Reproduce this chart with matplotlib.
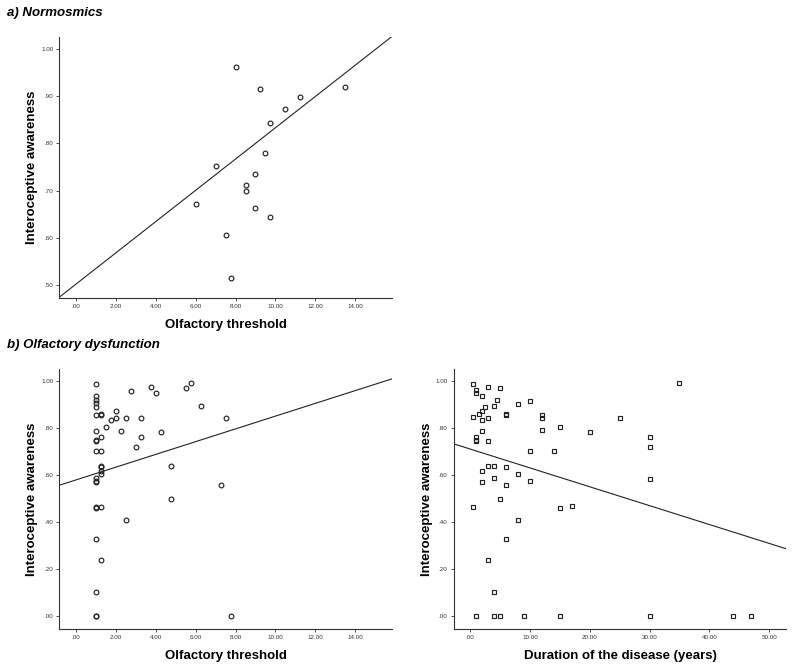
import matplotlib
matplotlib.use("Agg")
import matplotlib.pyplot as plt
from matplotlib.ticker import FuncFormatter

plt.rcParams['font.family'] = ['Liberation Sans', 'DejaVu Sans']

# a) Normosmics: olfactory threshold vs interoceptive awareness
norm_thr = [8.0, 9.25, 13.5, 11.25, 10.5, 9.75, 9.5, 7.0, 9.0, 8.5,
            8.5, 6.0, 9.0, 9.75, 7.5, 7.75]
norm_ia = [0.962, 0.915, 0.919, 0.899, 0.872, 0.844, 0.780, 0.751, 0.736, 0.711,
           0.698, 0.672, 0.664, 0.645, 0.606, 0.514]
norm_fit = (0.502, 0.0331)  # intercept, slope

# b) Olfactory dysfunction: olfactory threshold vs interoceptive awareness
dys_thr = [1.0, 1.0, 1.0, 1.0, 1.0, 1.0, 1.0, 1.0, 1.0, 1.0,
           1.0, 1.0, 1.0, 1.0, 1.0, 1.0, 1.0, 1.0, 1.0,
           1.25, 1.25, 1.25, 1.25, 1.25, 1.25, 1.25, 1.25, 1.25, 1.25,
           1.5, 1.75, 2.0, 2.0, 2.25, 2.5, 2.5, 2.75, 3.0, 3.25,
           3.25, 3.75, 4.0, 4.25, 4.75, 4.75, 5.5, 5.75, 6.25, 7.25,
           7.5, 7.75]
dys_ia = [0.987, 0.936, 0.918, 0.908, 0.891, 0.855, 0.786, 0.748, 0.745, 0.702,
          0.586, 0.577, 0.570, 0.465, 0.460, 0.329, 0.104, 0.0, 0.0,
          0.858, 0.855, 0.762, 0.702, 0.641, 0.634, 0.617, 0.606, 0.465, 0.240,
          0.806, 0.834, 0.872, 0.841, 0.789, 0.845, 0.409, 0.957, 0.721, 0.844,
          0.762, 0.976, 0.949, 0.783, 0.640, 0.498, 0.970, 0.993, 0.892, 0.560,
          0.841, 0.0]
dys_fit = (0.580, 0.0271)

# b) Olfactory dysfunction: disease duration vs interoceptive awareness
dur_years = [0.5, 1, 1, 3, 5, 2, 4.5, 10, 4, 2.5,
             8, 2, 1.5, 0.5, 3, 2, 6, 6, 12, 12,
             15, 20, 25, 35, 2, 12, 1, 1, 1, 3,
             10, 14, 30, 30, 30, 3, 4, 6, 2, 4,
             8, 2, 6, 10, 0.5, 5, 15, 17, 8, 6,
             3, 4, 1, 4, 5, 9, 15, 30, 44, 47]
dur_ia = [0.986, 0.960, 0.949, 0.976, 0.970, 0.935, 0.918, 0.915, 0.892, 0.889,
          0.904, 0.872, 0.861, 0.847, 0.841, 0.835, 0.858, 0.854, 0.855, 0.843,
          0.804, 0.784, 0.845, 0.993, 0.786, 0.790, 0.762, 0.748, 0.744, 0.745,
          0.702, 0.702, 0.762, 0.719, 0.582, 0.641, 0.640, 0.635, 0.617, 0.587,
          0.607, 0.570, 0.560, 0.574, 0.464, 0.498, 0.460, 0.468, 0.409, 0.330,
          0.241, 0.104, 0.0, 0.0, 0.0, 0.0, 0.0, 0.0, 0.0, 0.0]
dur_fit = (0.711, -0.00802)


def spss_fmt(v, pos):
    s = f"{v:.2f}"
    if s.startswith("0."):
        s = s[1:]
    elif s.startswith("-0."):
        s = "-" + s[2:]
    return s


def style_axes(ax):
    for side in ("top", "right"):
        ax.spines[side].set_visible(False)
    for side in ("left", "bottom"):
        ax.spines[side].set_color("#333333")
        ax.spines[side].set_linewidth(0.8)
    ax.tick_params(direction="out", length=2.3, width=0.6, labelsize=4.5,
                   colors="#333333", pad=2)
    ax.xaxis.set_major_formatter(FuncFormatter(spss_fmt))
    ax.yaxis.set_major_formatter(FuncFormatter(spss_fmt))
    ax.set_ylabel("Interoceptive awareness", fontsize=9.5, fontweight="bold", labelpad=2)


fig = plt.figure(figsize=(8, 6.67), dpi=100)

ax1 = fig.add_axes([0.074, 0.553, 0.416, 0.392])
ax1.plot(norm_thr, norm_ia, "o", ms=3.4, mfc="none", mec="#222222", mew=0.85)
ax1.axline((0, norm_fit[0]), slope=norm_fit[1], color="#222222", lw=0.8)
ax1.set_xlim(-0.85, 15.85)
ax1.set_ylim(0.472, 1.026)
ax1.set_xticks([0, 2, 4, 6, 8, 10, 12, 14])
ax1.set_yticks([0.5, 0.6, 0.7, 0.8, 0.9, 1.0])
style_axes(ax1)
ax1.set_xlabel("Olfactory threshold", fontsize=9.5, fontweight="bold", labelpad=7)

ax2 = fig.add_axes([0.074, 0.057, 0.416, 0.39])
ax2.plot(dys_thr, dys_ia, "o", ms=3.4, mfc="none", mec="#222222", mew=0.85)
ax2.axline((0, dys_fit[0]), slope=dys_fit[1], color="#222222", lw=0.8)
ax2.set_xlim(-0.85, 15.85)
ax2.set_ylim(-0.054, 1.052)
ax2.set_xticks([0, 2, 4, 6, 8, 10, 12, 14])
ax2.set_yticks([0, 0.2, 0.4, 0.6, 0.8, 1.0])
style_axes(ax2)
ax2.set_xlabel("Olfactory threshold", fontsize=9.5, fontweight="bold", labelpad=7)

ax3 = fig.add_axes([0.567, 0.057, 0.416, 0.39])
ax3.plot(dur_years, dur_ia, "s", ms=3.5, mfc="none", mec="#222222", mew=0.85)
ax3.axline((0, dur_fit[0]), slope=dur_fit[1], color="#222222", lw=0.8)
ax3.set_xlim(-2.78, 52.9)
ax3.set_ylim(-0.054, 1.052)
ax3.set_xticks([0, 10, 20, 30, 40, 50])
ax3.set_yticks([0, 0.2, 0.4, 0.6, 0.8, 1.0])
style_axes(ax3)
ax3.set_xlabel("Duration of the disease (years)", fontsize=9.5, fontweight="bold", labelpad=7)

fig.text(0.009, 0.980, "a) Normosmics", fontsize=9.5, fontweight="bold",
         fontstyle="italic", va="center", ha="left")
fig.text(0.009, 0.483, "b) Olfactory dysfunction", fontsize=9.5, fontweight="bold",
         fontstyle="italic", va="center", ha="left")

fig.savefig("out.png", dpi=100)
